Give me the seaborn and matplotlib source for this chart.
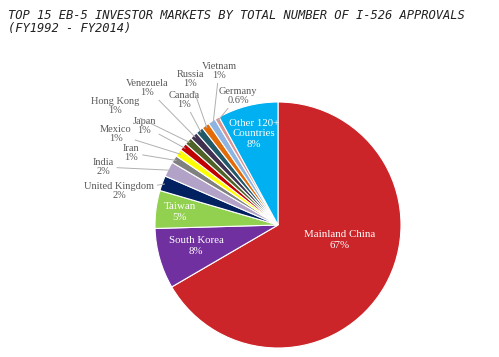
import numpy as np
import matplotlib
matplotlib.use("Agg")
import matplotlib.pyplot as plt
import seaborn as sns

# data (clockwise from 12 o'clock)
countries = ['Mainland China', 'South Korea', 'Taiwan', 'United Kingdom', 'India', 'Iran',
             'Mexico', 'Japan', 'Hong Kong', 'Venezuela', 'Canada', 'Russia', 'Vietnam',
             'Germany', 'Other 120+\nCountries']
shares = [67, 8, 5, 2, 2, 1, 1, 1, 1, 1, 1, 1, 1, 0.6, 8]
pct_labels = ['67%', '8%', '5%', '2%', '2%', '1%', '1%', '1%', '1%', '1%', '1%', '1%', '1%',
              '0.6%', '8%']

colors = ['#cc2529', '#7030a0', '#92d050', '#002060', '#b3a2c7', '#808080', '#ffff00',
          '#c00000', '#4f6228', '#403151', '#215968', '#e36c09', '#8db4e2', '#d99694',
          '#00b0f0']

# label positions in pixels (layout only); first four sit inside the pie
inside_pos = {0: (340, 240), 1: (196, 246), 2: (180, 212), 14: (254, 134)}
outside_pos = {3: (119, 187), 4: (103, 163), 5: (131, 149), 6: (116, 130), 7: (144, 122),
               8: (115, 102), 9: (147, 84), 10: (184, 96), 11: (190, 75), 12: (219, 67),
               13: (238, 92)}

W, H = 499, 357
cx, cy, R = 278, 225, 123


def to_data(px, py):
    return (px - cx) / R, (cy - py) / R


sns.set_style("white")
fig = plt.figure(figsize=(W / 100, H / 100), dpi=100)
ax = fig.add_axes([0, 0, 1, 1])

wedges, _ = ax.pie(shares, colors=colors, startangle=90, counterclock=False,
                   wedgeprops=dict(edgecolor='white', linewidth=0.8))
ax.set_xlim(-cx / R, (W - cx) / R)
ax.set_ylim(-(H - cy) / R, cy / R)
ax.axis('off')

serif = ['Liberation Serif', 'DejaVu Serif']
gray = '#595959'
for i, w in enumerate(wedges):
    ang = np.deg2rad((w.theta1 + w.theta2) / 2)
    if i in inside_pos:
        tx, ty = to_data(*inside_pos[i])
        ax.text(tx, ty, countries[i] + '\n' + pct_labels[i],
                ha='center', va='center', color='white', fontsize=7.8, family=serif,
                linespacing=1.2)
    else:
        tx, ty = to_data(outside_pos[i][0], outside_pos[i][1] + 4)
        ax.annotate(countries[i] + '\n' + pct_labels[i],
                    xy=(0.98 * np.cos(ang), 0.98 * np.sin(ang)), xytext=(tx, ty),
                    ha='center', va='center', color=gray, fontsize=7.5, family=serif,
                    linespacing=1.0,
                    arrowprops=dict(arrowstyle='-', color='#b0b0b0', lw=0.7,
                                    shrinkA=0, shrinkB=0))

fig.text(8 / W, 1 - 22 / H,
         'TOP 15 EB-5 INVESTOR MARKETS BY TOTAL NUMBER OF I-526 APPROVALS\n(FY1992 - FY2014)',
         family='DejaVu Sans Mono', style='italic', fontsize=8.7, color='#222222',
         va='center', ha='left', linespacing=1.05)

fig.savefig('out.png', dpi=100)
